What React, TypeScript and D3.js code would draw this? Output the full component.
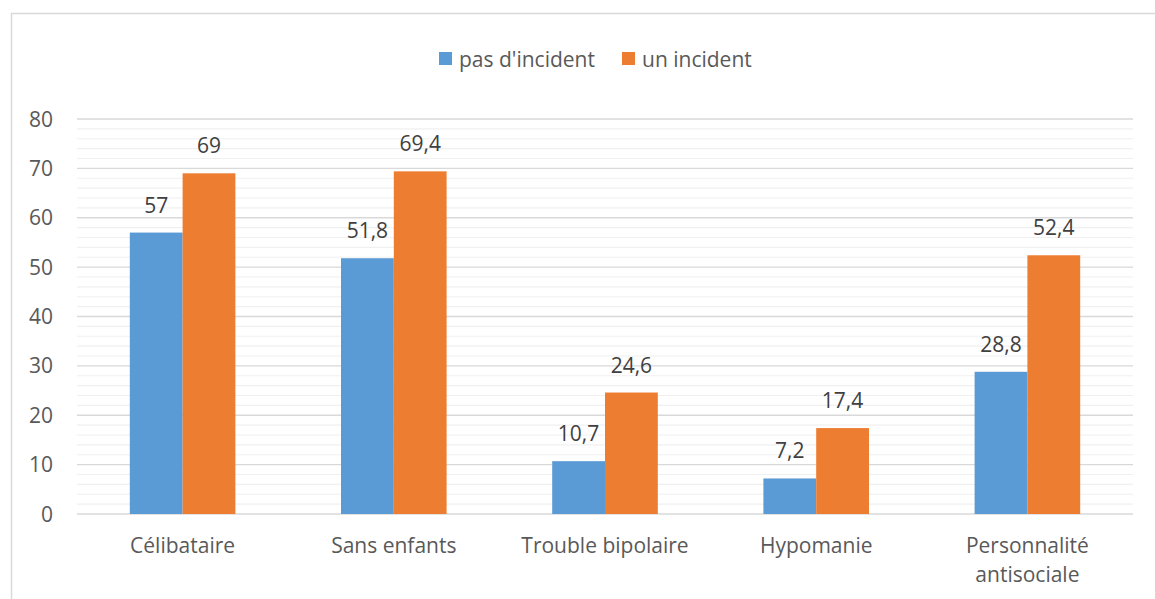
import React, { useEffect, useRef } from "react";
import * as d3 from "d3";

const categories = ["Célibataire", "Sans enfants", "Trouble bipolaire", "Hypomanie", "Personnalité antisociale"];
const seriesNames = ["pas d'incident", "un incident"];
const pasIncident = [57, 51.8, 10.7, 7.2, 28.8];
const unIncident = [69, 69.4, 24.6, 17.4, 52.4];
const colors = ["#5B9BD5", "#ED7D31"];
const yTicks = [0, 10, 20, 30, 40, 50, 60, 70, 80];

const W = 1155;
const H = 599;
const plot = { left: 77, right: 1133, top: 119, bottom: 514 };
const FONT = "'Open Sans', sans-serif";
const FS = 21;

function wrapLabel(label: string): string[] {
  if (label === "Personnalité antisociale") return ["Personnalité", "antisociale"];
  return [label];
}

export default function App() {
  const svgRef = useRef<SVGSVGElement>(null);

  useEffect(() => {
    const svg = d3.select(svgRef.current);
    svg.selectAll("*").remove();

    // outer frame
    svg.append("rect")
      .attr("x", 11.5).attr("y", 13.5)
      .attr("width", W + 10).attr("height", H + 10)
      .attr("fill", "#fff").attr("stroke", "#d9d9d9").attr("stroke-width", 1.5);

    const x = d3.scaleBand().domain(categories).range([plot.left, plot.right]).paddingInner(0).paddingOuter(0);
    const y = d3.scaleLinear().domain([0, 80]).range([plot.bottom, plot.top]);

    // minor grid
    const minor = d3.range(0, 81, 2).filter(v => v % 10 !== 0);
    svg.append("g").selectAll("line").data(minor).enter().append("line")
      .attr("x1", plot.left).attr("x2", plot.right)
      .attr("y1", d => y(d)).attr("y2", d => y(d))
      .attr("stroke", "#f0f0f0").attr("stroke-width", 1.2);

    // major grid
    svg.append("g").selectAll("line").data(yTicks).enter().append("line")
      .attr("x1", plot.left).attr("x2", plot.right)
      .attr("y1", d => y(d)).attr("y2", d => y(d))
      .attr("stroke", "#d9d9d9").attr("stroke-width", 1.3);

    // y tick labels
    svg.append("g").selectAll("text").data(yTicks).enter().append("text")
      .attr("x", 53).attr("y", d => y(d) + 7.5)
      .attr("text-anchor", "end")
      .attr("font-family", FONT).attr("font-size", FS).attr("fill", "#595959")
      .text(d => d);

    const bw = x.bandwidth() / 4;
    const series = [pasIncident, unIncident];
    series.forEach((vals, si) => {
      const g = svg.append("g");
      g.selectAll("rect").data(vals).enter().append("rect")
        .attr("x", (d, i) => (x(categories[i]) as number) + bw + si * bw)
        .attr("y", d => y(d))
        .attr("width", bw)
        .attr("height", d => plot.bottom - y(d))
        .attr("fill", colors[si]);
      g.selectAll("text").data(vals).enter().append("text")
        .attr("x", (d, i) => (x(categories[i]) as number) + bw + si * bw + bw / 2)
        .attr("y", d => y(d) - 20)
        .attr("text-anchor", "middle")
        .attr("font-family", FONT).attr("font-size", FS).attr("fill", "#404040")
        .text(d => String(d).replace(".", ","));
    });

    // category labels
    const cat = svg.append("g");
    categories.forEach(c => {
      const lines = wrapLabel(c);
      lines.forEach((ln, li) => {
        cat.append("text")
          .attr("x", (x(c) as number) + x.bandwidth() / 2)
          .attr("y", 553 + li * 29)
          .attr("text-anchor", "middle")
          .attr("font-family", FONT).attr("font-size", FS).attr("fill", "#595959")
          .text(ln);
      });
    });

    // legend
    const legendX = [439, 622];
    seriesNames.forEach((name, i) => {
      svg.append("rect")
        .attr("x", legendX[i]).attr("y", 52)
        .attr("width", 13).attr("height", 13)
        .attr("fill", colors[i]);
      svg.append("text")
        .attr("x", legendX[i] + 20).attr("y", 67)
        .attr("font-family", FONT).attr("font-size", FS).attr("fill", "#595959")
        .text(name);
    });
  }, []);

  return (
    <svg ref={svgRef} width={W} height={H}
      style={{ position: "absolute", left: 0, top: 0, display: "block", background: "#fff" }} />
  );
}
